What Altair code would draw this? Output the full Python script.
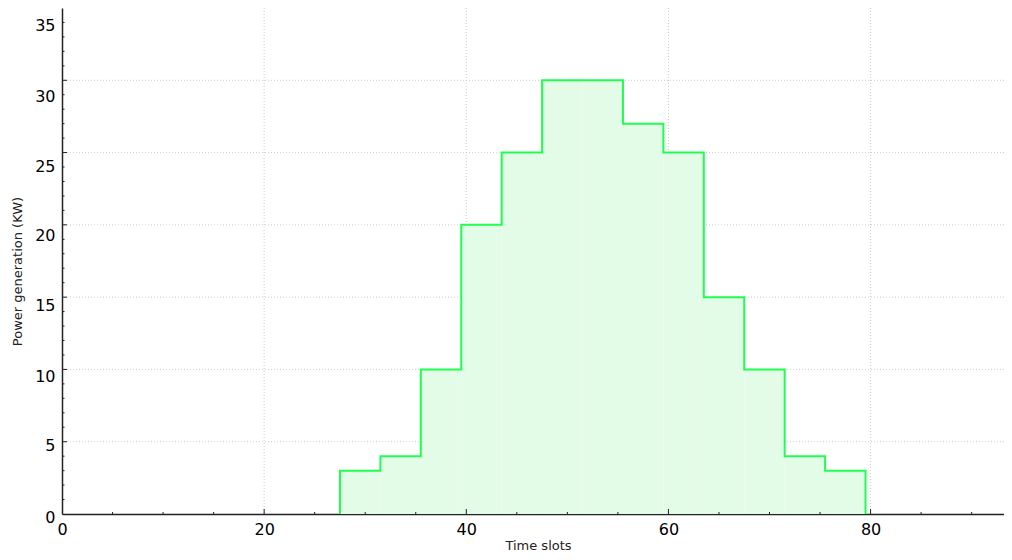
import altair as alt
import pandas as pd

# Step data: each step starts at step_start and lasts until the next
step_start = [27.5, 31.5, 35.5, 39.5, 43.5, 47.5, 51.5, 55.5, 59.5, 63.5, 67.5, 71.5, 75.5]
power_kw = [3, 4, 10, 20, 25, 30, 30, 27, 25, 15, 10, 4, 3]
slot_end = 79.5

x_labels = [0, 20, 40, 60, 80]
y_labels = [0, 5, 10, 15, 20, 25, 30, 35]
x_minor = [v for v in range(5, 95, 5) if v % 20 != 0]
x_major = [20, 40, 60, 80]
y_minor = [v for v in range(1, 35) if v % 5 != 0]
y_major = [5, 10, 15, 20, 25, 30]

xs = [step_start[0]] + step_start + [slot_end]
ys = [0] + power_kw + [0]
df = pd.DataFrame({"idx": list(range(len(xs))), "slot": xs, "kw": ys})

W, H = 942, 506
FONT = "DejaVu Sans"
AXIS_COLOR = "#222222"
GRID_COLOR = "#cccccc"

xscale = alt.Scale(domain=[0, 93.2], nice=False, zero=False)
yscale = alt.Scale(domain=[0, 35], nice=False)

# the reference's y labels sit a little below their grid lines, more so higher up
y_label_offset = {
    "condition": [
        {"test": "datum.value == 35", "value": 17},
        {"test": "datum.value == 30", "value": 16},
        {"test": "datum.value == 25", "value": 14},
        {"test": "datum.value == 20", "value": 11},
        {"test": "datum.value == 15", "value": 8},
        {"test": "datum.value == 10", "value": 7},
        {"test": "datum.value == 5", "value": 4},
    ],
    "value": 3,
}

x_axis = alt.Axis(
    values=x_labels, title="Time slots", grid=False, tickSize=0, labelPadding=7,
    labelFontSize=16, labelColor="black", labelFont=FONT,
    titleFont=FONT, titleFontSize=13, titleFontWeight="normal", titleColor="#222",
    titleY=31, titleX=476, titleBaseline="middle",
    domainColor=AXIS_COLOR, domainWidth=1.5, labelFlush=False,
)
y_axis = alt.Axis(
    values=y_labels, title="Power generation (KW)", grid=False, tickSize=0, labelPadding=7,
    labelFontSize=16, labelColor="black", labelFont=FONT,
    labelOffset=y_label_offset,
    titleFont=FONT, titleFontSize=13, titleFontWeight="normal", titleColor="#222",
    titleX=-45, titleY=263, titleBaseline="middle",
    domainColor=AXIS_COLOR, domainWidth=1.5, labelFlush=False,
)

x_grid = alt.Chart(pd.DataFrame({"g": x_major})).mark_rule(
    color=GRID_COLOR, strokeWidth=1, strokeDash=[1, 2]
).encode(x=alt.X("g:Q", scale=xscale, axis=x_axis))
y_grid = alt.Chart(pd.DataFrame({"g": y_major})).mark_rule(
    color=GRID_COLOR, strokeWidth=1, strokeDash=[1, 2]
).encode(y=alt.Y("g:Q", scale=yscale, axis=y_axis))

area = alt.Chart(df).mark_area(interpolate="step-after", color="#e2fce8").encode(
    x=alt.X("slot:Q", scale=xscale, axis=x_axis),
    y=alt.Y("kw:Q", scale=yscale, axis=y_axis),
    order="idx:Q",
)
line = alt.Chart(df).mark_line(interpolate="step-after", color="#1eff50", strokeWidth=2).encode(
    x=alt.X("slot:Q", scale=xscale, axis=x_axis),
    y=alt.Y("kw:Q", scale=yscale, axis=y_axis),
    order="idx:Q",
)

def xticks(vals, length):
    return alt.Chart(pd.DataFrame({"t": vals})).mark_rule(color=AXIS_COLOR, strokeWidth=1).encode(
        x=alt.X("t:Q", scale=xscale, axis=x_axis),
        y=alt.value(H), y2=alt.value(H - length),
    )

def yticks(vals, length):
    return alt.Chart(pd.DataFrame({"t": vals})).mark_rule(color=AXIS_COLOR, strokeWidth=1).encode(
        y=alt.Y("t:Q", scale=yscale, axis=y_axis),
        x=alt.value(0), x2=alt.value(length),
    )

chart = alt.layer(
    x_grid, y_grid, area, line,
    xticks(x_minor, 2), xticks(x_major, 5),
    yticks(y_minor, 2.5), yticks(y_major, 5),
).properties(
    width=W, height=H,
    autosize=alt.AutoSizeParams(type="none"),
    padding={"left": 54, "top": 0, "right": 0, "bottom": 38},
    background="white",
).configure_view(stroke=None)

chart.save("out.html", embed_options={"renderer": "svg", "actions": False})
